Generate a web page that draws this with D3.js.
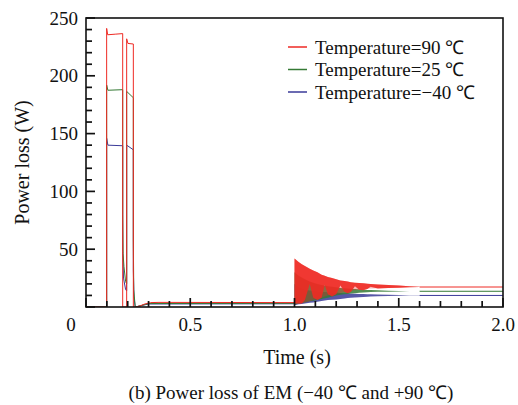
<!DOCTYPE html>
<html>
<head>
<meta charset="utf-8">
<script src="https://cdn.jsdelivr.net/npm/d3@7"></script>
</head>
<body style="margin:0;background:#fff">
<script>
// time (s), power loss (W); null = gap where the oscillating band takes over
const red90 = [[0, 0], [0.099, 0], [0.099, 241], [0.104, 235.5], [0.14, 236], [0.176, 236.5], [0.176, 0], [0.195, 0],
    [0.195, 232], [0.201, 228], [0.227, 227.5], [0.227, 0], [0.238, 0], [0.26, 1], [0.28, 2.5], [0.31, 3.8], [0.35, 4],
    [1.0, 3.8], [1.0, null], [1.6, 17.3], [2.0, 17.3]]
const green25 = [[0, 0], [0.099, 0], [0.099, 192], [0.105, 187.5], [0.176, 188], [0.176, 80], [0.178, 46], [0.182, 35],
    [0.19, 22], [0.195, 20], [0.195, 186.5], [0.227, 181], [0.227, 58], [0.229, 15], [0.236, 0], [0.26, 1], [0.3, 3],
    [1.0, 3.2], [1.0, null], [1.6, 13.6], [2.0, 13.6]]
const blue40 = [[0, 0], [0.099, 0], [0.099, 146], [0.105, 140], [0.176, 139.5], [0.176, 48], [0.18, 25], [0.19, 15],
    [0.195, 14], [0.195, 140], [0.227, 136], [0.227, 32], [0.23, 9], [0.236, 0], [0.26, 1], [0.3, 2.6],
    [1.0, 2.8], [1.0, null], [1.6, 10], [2.0, 10]]

// envelope of the oscillation after the load step at 1.0 s
const bandT = [1.0, 1.02, 1.035, 1.05, 1.073, 1.09, 1.11, 1.13, 1.145, 1.16, 1.18, 1.2, 1.22, 1.24, 1.255, 1.27, 1.29,
    1.31, 1.33, 1.35, 1.365, 1.4, 1.45, 1.5, 1.55, 1.6]
const redHi = [42, 39, 37, 35.5, 33, 31.5, 30, 28, 27, 26, 25, 24, 23, 22.5, 22, 21.5, 21, 20.7, 20.5, 20.2, 20, 19.5, 19, 18.5, 18, 17.5]
const redLo = [3, 3, 3, 6, 20, 8, 6, 8, 19, 11, 9, 11, 18.5, 13, 12, 13, 18, 15, 14.5, 15.5, 17.5, 16, 16.5, 16.7, 17, 17.2]
const redFloor = [3, 3, 3, 4, 5, 6, 7, 8, 9, 10, 11, 11.5, 12, 13, 13.5, 14, 14.5, 15, 15.5, 16, 16, 16.3, 16.5, 16.7, 17, 17.2]
const greenHi = [30, 27, 25.5, 24, 22, 21, 20, 19, 18.5, 18, 17.5, 17, 16.5, 16.2, 16, 15.8, 15.5, 15.3, 15, 14.8, 14.7, 14.4, 14.1, 13.9, 13.7, 13.6]
const greenLo = [2, 3, 3.5, 4, 5, 5.5, 6, 7, 7.5, 8, 9, 10, 10.5, 11, 11.3, 11.6, 12, 12.3, 12.5, 12.8, 13, 13.1, 13.3, 13.5, 13.6, 13.6]
const blueHi = [20, 17, 16, 15, 14.3, 14, 13.5, 13.2, 13, 12.8, 12.6, 12.5, 12.2, 12, 11.8, 11.6, 11.5, 11.3, 11.2, 11, 11, 10.8, 10.6, 10.4, 10.2, 10.1]
const blueLo = [1.5, 2.3, 2.7, 3, 3.6, 4, 4.5, 5.2, 5.6, 6, 6.3, 6.5, 7, 7.4, 7.7, 8, 8.3, 8.5, 8.7, 8.9, 9, 9.3, 9.6, 9.8, 9.9, 10]

const legendLabels = ['Temperature=90 \u2103', 'Temperature=25 \u2103', 'Temperature=\u221240 \u2103']
const colors = ['#ee2a24', '#357a35', '#3a3a98']
const xTicks = [0, 0.5, 1.0, 1.5, 2.0]
const yTicks = [50, 100, 150, 200, 250]

const font = '"Liberation Serif", "Times New Roman", serif'
const plotL = 86, plotR = 503, plotT = 18, plotB = 307

const svg = d3.select('body').append('svg').attr('width', 518).attr('height', 405)
    .style('font-family', font)

const x = d3.scaleLinear().domain([0, 2]).range([plotL, plotR])
const y = d3.scaleLinear().domain([0, 250]).range([plotB, plotT])

svg.append('defs').append('clipPath').attr('id', 'plotclip')
    .append('rect').attr('x', plotL).attr('y', plotT).attr('width', plotR - plotL).attr('height', plotB - plotT)

const plot = svg.append('g').attr('clip-path', 'url(#plotclip)')

const band = (hi, lo) => d3.area()
    .x((d, i) => x(bandT[i]))
    .y0((d, i) => y(lo[i]))
    .y1((d, i) => y(hi[i]))(bandT)

const line = d3.line()
    .defined(d => d[1] !== null)
    .x(d => x(d[0]))
    .y(d => y(d[1]))

// bands first, the traces on top
plot.append('path').attr('d', band(blueHi, blueLo)).attr('fill', colors[2]).attr('opacity', 0.85)
plot.append('path').attr('d', band(greenHi, greenLo)).attr('fill', colors[1]).attr('opacity', 0.85)
plot.append('path').attr('d', band(redHi, redFloor)).attr('fill', colors[0]).attr('opacity', 0.35)
plot.append('path').attr('d', band(redHi, redLo)).attr('fill', colors[0]).attr('opacity', 0.9)

const series = [blue40, green25, red90]
const seriesColors = [colors[2], colors[1], colors[0]]
series.forEach((s, i) => {
    plot.append('path')
        .datum(s)
        .attr('d', line)
        .attr('fill', 'none')
        .attr('stroke', seriesColors[i])
        .attr('stroke-width', 1)
})

// frame
svg.append('rect').attr('x', plotL).attr('y', plotT).attr('width', plotR - plotL).attr('height', plotB - plotT)
    .attr('fill', 'none').attr('stroke', '#111').attr('stroke-width', 1.6)

// inward ticks
svg.selectAll('line.xt').data(d3.range(0, 21).map(i => i / 10)).join('line')
    .attr('class', 'xt')
    .attr('x1', d => x(d)).attr('x2', d => x(d))
    .attr('y1', plotB).attr('y2', d => plotB - (xTicks.includes(d) ? 9 : 6))
    .style('stroke', '#111').style('stroke-width', '1.7px')
svg.selectAll('line.yt').data(d3.range(0, 26).map(i => i * 10)).join('line')
    .attr('class', 'yt')
    .attr('y1', d => y(d)).attr('y2', d => y(d))
    .attr('x1', plotL).attr('x2', d => plotL + (d % 50 === 0 ? 9 : 6))
    .style('stroke', '#111').style('stroke-width', '1.7px')

svg.selectAll('text.xl').data(xTicks).join('text')
    .attr('class', 'xl')
    .attr('x', d => d === 0 ? x(d) - 15 : x(d))
    .attr('y', plotB + 17).attr('dy', '0.35em')
    .attr('text-anchor', 'middle').attr('font-size', 19).attr('fill', '#111')
    .text(d => d === 0 ? '0' : d.toFixed(1))

svg.selectAll('text.yl').data(yTicks).join('text')
    .attr('class', 'yl')
    .attr('x', plotL - 8).attr('y', d => y(d)).attr('dy', '0.35em')
    .attr('text-anchor', 'end').attr('font-size', 19).attr('fill', '#111')
    .text(d => d)

// legend
legendLabels.forEach((label, i) => {
    const row = svg.append('g').attr('transform', `translate(288,${47 + i * 22.5})`)
    row.append('line').attr('x1', 0).attr('x2', 19).attr('stroke', colors[i]).attr('stroke-width', 1.5)
    row.append('text').attr('x', 27).attr('dy', '0.35em').attr('font-size', 19).attr('fill', '#111').text(label)
})

svg.append('text')
    .attr('transform', `translate(22,${(plotT + plotB) / 2}) rotate(-90)`)
    .attr('text-anchor', 'middle').attr('dy', '0.35em')
    .attr('font-size', 20).attr('fill', '#111')
    .text('Power loss (W)')

svg.append('text')
    .attr('x', 297).attr('y', 357).attr('dy', '0.35em')
    .attr('text-anchor', 'middle').attr('font-size', 20).attr('fill', '#111')
    .text('Time (s)')

svg.append('text')
    .attr('x', 291).attr('y', 392).attr('dy', '0.35em')
    .attr('text-anchor', 'middle').attr('font-size', 19).attr('fill', '#111')
    .text('(b) Power loss of EM (\u221240 \u2103 and +90 \u2103)')
</script>
</body>
</html>
